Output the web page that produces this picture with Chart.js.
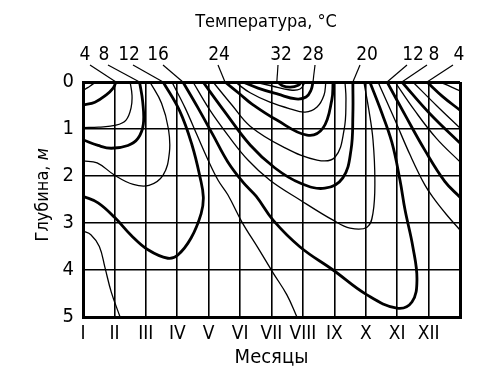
<!DOCTYPE html>
<html>
<head>
<meta charset="utf-8">
<script src="https://cdn.jsdelivr.net/npm/chart.js@4.4.0/dist/chart.umd.min.js"></script>
<style>
  html, body { margin: 0; padding: 0; background: #fff; }
</style>
</head>
<body>
<canvas id="chart" width="500" height="390"></canvas>
<script>
// Months on x (0..12, 12 = next January), depth in metres on y
const months = ['I', 'II', 'III', 'IV', 'V', 'VI', 'VII', 'VIII', 'IX', 'X', 'XI', 'XII'];
const depthTicks = [0, 1, 2, 3, 4, 5];

// Isotherms, points are [month, depth]
const t2a = [[0, 0.18], [0.15, 0.12], [0.3, 0.05], [0.42, 0]];
const t2b = [[11.35, 0], [11.7, 0.1], [12, 0.19]];
const t4a = [[0, 0.49], [0.38, 0.43], [0.73, 0.28], [0.96, 0.13], [1.05, 0]];
const t4b = [[10.95, 0], [11.45, 0.31], [12, 0.6]];
const t6a = [[1.5, 0], [1.56, 0.28], [1.53, 0.55], [1.37, 0.81], [1.05, 0.92], [0.5, 0.96], [0, 0.97]];
const t6b = [[10.5, 0], [11.25, 0.5], [12, 0.98]];
const t8a = [[1.8, 0], [1.9, 0.42], [1.92, 0.9], [1.75, 1.2], [1.43, 1.35], [0.9, 1.41], [0.48, 1.35], [0, 1.23]];
const t8b = [[10.15, 0], [11.05, 0.68], [12, 1.3]];
const t10a = [[2.13, 0], [2.5, 0.45], [2.72, 1.0], [2.75, 1.5], [2.55, 1.98], [2.1, 2.2], [1.6, 2.18], [1.0, 1.98], [0.45, 1.72], [0, 1.68]];
const t10b = [[9.93, 0], [10.55, 0.6], [11.25, 1.2], [12, 1.7]];
const t12a = [[2.55, 0], [3.08, 0.62], [3.47, 1.34], [3.73, 2.04], [3.83, 2.45], [3.76, 2.8], [3.44, 3.32], [3.02, 3.68], [2.7, 3.75], [2.07, 3.57], [1.53, 3.26], [1.02, 2.89], [0.48, 2.57], [0, 2.43]];
const t12b = [[9.68, 0], [10.25, 0.7], [10.88, 1.45], [11.52, 2.12], [12, 2.45]];
const t14a = [[0, 3.17], [0.25, 3.25], [0.52, 3.5], [0.7, 3.95], [0.9, 4.47], [1.18, 5]];
const t14b = [[2.83, 0], [3.25, 0.55], [3.63, 1.13], [3.98, 1.66], [4.3, 2.09], [4.61, 2.4], [5.06, 2.98], [5.57, 3.53], [6.05, 4.06], [6.49, 4.53], [6.81, 5]];
const t14c = [[9.39, 0], [9.93, 0.81], [10.41, 1.55], [10.88, 2.19], [11.2, 2.51], [11.58, 2.83], [12, 3.15]];
const t16 = [[3.18, 0], [3.66, 0.55], [4.14, 1.13], [4.61, 1.7], [5.09, 2.13], [5.51, 2.43], [6.05, 2.94], [6.91, 3.51], [7.96, 4.0], [9.04, 4.53], [9.99, 4.81], [10.47, 4.68], [10.63, 4.21], [10.5, 3.51], [10.25, 2.72], [10.09, 2.09], [9.83, 1.28], [9.45, 0.55], [9.13, 0]];
const t18 = [[3.5, 0], [4.04, 0.6], [4.61, 1.13], [5.25, 1.66], [5.95, 2.09], [6.91, 2.51], [7.96, 2.94], [8.5, 3.11], [9.04, 3.09], [9.23, 2.79], [9.29, 2.09], [9.23, 1.23], [9.1, 0.6], [8.94, 0]];
const t20 = [[3.82, 0], [4.52, 0.64], [5.32, 1.34], [6.11, 1.83], [6.91, 2.15], [7.7, 2.26], [8.27, 2.04], [8.53, 1.45], [8.59, 0.7], [8.59, 0]];
const t22 = [[4.14, 0], [4.74, 0.49], [5.32, 0.94], [6.37, 1.38], [7.45, 1.66], [8.02, 1.6], [8.31, 1.02], [8.37, 0.38], [8.34, 0]];
const t24 = [[4.52, 0], [5.0, 0.26], [5.38, 0.47], [6.17, 0.81], [7.13, 1.13], [7.64, 0.98], [7.92, 0.38], [7.96, 0]];
const t26 = [[4.84, 0], [5.32, 0.23], [5.95, 0.43], [6.59, 0.57], [7.07, 0.64], [7.45, 0.53], [7.67, 0.28], [7.73, 0]];
const t28 = [[5.09, 0], [5.57, 0.13], [6.21, 0.26], [6.78, 0.36], [7.1, 0.32], [7.26, 0.17], [7.32, 0]];
const t30 = [[5.47, 0], [6.02, 0.085], [6.59, 0.17], [6.91, 0.15], [7.07, 0]];
const t32 = [[6.2, 0], [6.35, 0.08], [6.6, 0.11], [6.85, 0.07], [6.95, 0]];

const isotherms = [
  [2, t2a], [2, t2b], [4, t4a], [4, t4b], [6, t6a], [6, t6b], [8, t8a], [8, t8b],
  [10, t10a], [10, t10b], [12, t12a], [12, t12b], [14, t14a], [14, t14b], [14, t14c],
  [16, t16], [18, t18], [20, t20], [22, t22], [24, t24], [26, t26], [28, t28], [30, t30], [32, t32]
];

// Labels at the top and the month where their leader meets the surface
const isoLabels = ['4', '8', '12', '16', '24', '32', '28', '20', '12', '8', '4'];
const isoLabelMonth = [1.05, 1.8, 2.55, 3.18, 4.52, 6.17, 7.32, 8.59, 9.68, 10.15, 10.95];
// label layout (px)
const labelTextX = [85, 104, 129, 158, 219, 281, 313, 367, 413, 434, 459];
const leaderStartX = [90, 108, 133, 163, 218, 278, 315, 360, 407, 427, 453];

const FONT = "'DejaVu Sans Condensed', 'Liberation Sans Narrow', 'DejaVu Sans', sans-serif";

const annotations = {
  id: 'annotations',
  afterDraw(chart) {
    const { ctx, scales: { x, y } } = chart;
    ctx.save();
    ctx.fillStyle = '#000';
    ctx.strokeStyle = '#000';
    ctx.textAlign = 'center';
    ctx.textBaseline = 'middle';
    ctx.font = '18px ' + FONT;
    ctx.fillText('Температура, °C', 266, 22);

    ctx.font = '19px ' + FONT;
    ctx.lineWidth = 1.2;
    isoLabels.forEach((t, i) => {
      ctx.fillText(t, labelTextX[i], 55);
      ctx.beginPath();
      ctx.moveTo(leaderStartX[i], 65);
      ctx.lineTo(x.getPixelForValue(isoLabelMonth[i]), y.getPixelForValue(0));
      ctx.stroke();
    });

    // y axis title, "м" in italic
    ctx.translate(43, y.getPixelForValue(2.4));
    ctx.rotate(-Math.PI / 2);
    ctx.textAlign = 'left';
    const a = 'Глубина, ';
    ctx.font = '18px ' + FONT;
    const wa = ctx.measureText(a).width;
    ctx.font = 'italic 18px ' + FONT;
    const wb = ctx.measureText('м').width;
    ctx.font = '18px ' + FONT;
    ctx.fillText(a, -(wa + wb) / 2, 0);
    ctx.font = 'italic 18px ' + FONT;
    ctx.fillText('м', -(wa + wb) / 2 + wa, 0);
    ctx.restore();
  }
};

new Chart(document.getElementById('chart').getContext('2d'), {
  type: 'scatter',
  data: {
    datasets: isotherms.map(([temp, pts]) => ({
      data: pts.map(p => ({ x: p[0], y: p[1] })),
      showLine: true,
      borderColor: '#000',
      borderWidth: temp % 4 === 0 ? 2.8 : 1.3,
      pointRadius: 0,
      tension: 0.4,
      fill: false
    }))
  },
  options: {
    responsive: false,
    animation: false,
    events: [],
    layout: { padding: { left: 0, top: 82, right: 40, bottom: 0 } },
    plugins: { legend: { display: false }, tooltip: { enabled: false } },
    scales: {
      x: {
        type: 'linear',
        min: 0,
        max: 12,
        afterFit: s => { s.height = 73; },
        afterBuildTicks: s => { s.ticks = months.map((m, i) => ({ value: i })).concat([{ value: 12 }]); },
        ticks: {
          callback: v => months[v] || '',
          color: '#000',
          padding: 6,
          maxRotation: 0,
          autoSkip: false,
          font: { family: FONT, size: 19 }
        },
        grid: {
          color: '#000',
          drawTicks: false,
          lineWidth: c => (c.tick && (c.tick.value === 0 || c.tick.value === 12)) ? 3 : 1.6
        },
        border: { color: '#000', width: 3 },
        title: {
          display: true,
          text: 'Месяцы',
          color: '#000',
          font: { family: FONT, size: 20 },
          padding: { top: 0, bottom: 20 }
        }
      },
      y: {
        type: 'linear',
        reverse: true,
        min: 0,
        max: 5,
        afterFit: s => { s.width = 83; },
        afterBuildTicks: s => { s.ticks = depthTicks.map(v => ({ value: v })); },
        ticks: {
          color: '#000',
          padding: 9,
          font: { family: FONT, size: 20 }
        },
        grid: {
          color: '#000',
          drawTicks: false,
          lineWidth: c => (c.tick && (c.tick.value === 0 || c.tick.value === 5)) ? 3 : 1.6
        },
        border: { color: '#000', width: 3 }
      }
    }
  },
  plugins: [annotations]
});
</script>
</body>
</html>
